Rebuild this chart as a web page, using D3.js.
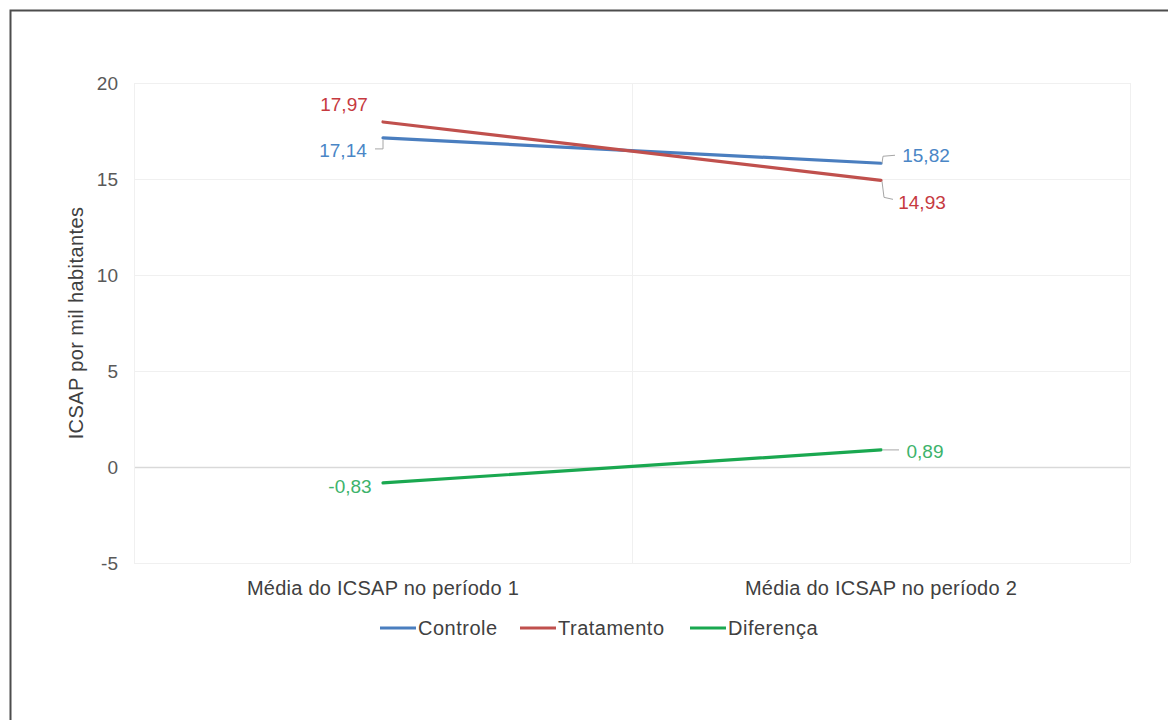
<!DOCTYPE html>
<html>
<head>
<meta charset="utf-8">
<script src="https://cdn.jsdelivr.net/npm/d3@7"></script>
<style>
  html, body { margin: 0; padding: 0; background: #fff; }
  svg { display: block; font-family: "Liberation Sans", Arial, sans-serif; }
</style>
</head>
<body>
<svg id="chart" width="1168" height="720"></svg>
<script>
// Periods on the x axis
const categories = ["Média do ICSAP no período 1", "Média do ICSAP no período 2"];

// ICSAP per thousand inhabitants, one value per period
const controle   = [17.14, 15.82];
const tratamento = [17.97, 14.93];
const diferenca  = [-0.83, 0.89];

const seriesNames = ["Controle", "Tratamento", "Diferença"];
const yTicks = [-5, 0, 5, 10, 15, 20];

const lineColors  = ["#4a7ebf", "#c0504d", "#1aa850"];
const labelColors = ["#4a86c6", "#c63a3f", "#3db36b"];

const series = [controle, tratamento, diferenca].map((vals, i) => ({
  name: seriesNames[i],
  values: vals,
  line: lineColors[i],
  label: labelColors[i]
}));

// decimal comma, plain hyphen for negatives
const fmt = v => d3.format(".2f")(v).replace(".", ",").replace("\u2212", "-");

const svg = d3.select("#chart");

// outer frame
svg.append("rect")
  .attr("x", 10.5).attr("y", 10.5)
  .attr("width", 1400).attr("height", 900)
  .attr("fill", "none").attr("stroke", "#4d4d4d").attr("stroke-width", 2);

const plot = { left: 134, right: 1130, top: 83, bottom: 563 };

const x = d3.scaleBand().domain(categories).range([plot.left, plot.right]);
const y = d3.scaleLinear().domain([-5, 20]).range([plot.bottom, plot.top]);
const cx = c => x(c) + x.bandwidth() / 2;

// horizontal gridlines
svg.append("g").selectAll("line").data(yTicks).join("line")
  .attr("x1", plot.left).attr("x2", plot.right)
  .attr("y1", d => y(d) + 0.5).attr("y2", d => y(d) + 0.5)
  .attr("stroke", d => d === 0 ? "#d9d9d9" : "#f0f0f0")
  .attr("stroke-width", d => d === 0 ? 1.5 : 1);

// vertical gridlines at band boundaries
const bounds = [plot.left, ...categories.slice(1).map(c => x(c)), plot.right];
svg.append("g").selectAll("line").data(bounds).join("line")
  .attr("x1", d => d + 0.5).attr("x2", d => d + 0.5)
  .attr("y1", plot.top).attr("y2", plot.bottom)
  .attr("stroke", "#f0f0f0");

// y axis tick labels
const yAxis = d3.axisLeft(y).tickValues(yTicks).tickSize(0).tickPadding(0)
  .tickFormat(d => String(d));
svg.append("g").attr("transform", `translate(${plot.left - 16},0)`).call(yAxis)
  .call(g => g.select(".domain").remove())
  .call(g => g.selectAll("text")
    .attr("font-size", 19).attr("fill", "#595959")
    .attr("font-family", "Liberation Sans, Arial, sans-serif"));

// x axis category labels
const xAxis = d3.axisBottom(x).tickSize(0).tickPadding(0);
svg.append("g").attr("transform", `translate(0,${plot.bottom + 18})`).call(xAxis)
  .call(g => g.select(".domain").remove())
  .call(g => g.selectAll("text")
    .attr("font-size", 20).attr("letter-spacing", 0.25).attr("fill", "#404040")
    .attr("font-family", "Liberation Sans, Arial, sans-serif"));

// y axis title
svg.append("text")
  .attr("transform", `translate(83,${(plot.top + plot.bottom) / 2}) rotate(-90)`)
  .attr("text-anchor", "middle")
  .attr("font-size", 20).attr("letter-spacing", 0.4).attr("fill", "#404040")
  .text("ICSAP por mil habitantes");

// series lines
const line = d3.line().x((d, i) => cx(categories[i])).y(d => y(d));
svg.append("g").selectAll("path").data(series).join("path")
  .attr("d", s => line(s.values))
  .attr("fill", "none")
  .attr("stroke", s => s.line)
  .attr("stroke-width", 3.2)
  .attr("stroke-linecap", "round");

// data labels: offsets of each label from its point, and leader lines
const labelPlacement = [
  [{ dx: -40, dy: 13, leader: [[-8, 11], [0, 11], [0, 2]] },
   { dx: 45, dy: -8, leader: [[1, 0], [2, -7], [14, -8]] }],
  [{ dx: -39, dy: -17, leader: null },
   { dx: 41, dy: 22, leader: [[1, 1], [3, 17], [12, 19]] }],
  [{ dx: -33, dy: 4, leader: null },
   { dx: 44, dy: 2, leader: [[2, 0], [18, 0]] }]
];

const lbl = svg.append("g");
series.forEach((s, si) => {
  s.values.forEach((v, ci) => {
    const px = cx(categories[ci]), py = y(v);
    const p = labelPlacement[si][ci];
    if (p.leader) {
      lbl.append("path")
        .attr("d", d3.line()(p.leader.map(([a, b]) => [px + a, py + b])))
        .attr("fill", "none").attr("stroke", "#a6a6a6").attr("stroke-width", 1);
    }
    lbl.append("text")
      .attr("x", px + p.dx).attr("y", py + p.dy)
      .attr("text-anchor", "middle").attr("dominant-baseline", "central")
      .attr("font-size", 19).attr("fill", s.label)
      .text(fmt(v));
  });
});

// legend
const legendItems = [
  { x0: 380, tx: 418 },
  { x0: 520, tx: 558 },
  { x0: 690, tx: 728 }
];
const lg = svg.append("g");
series.forEach((s, i) => {
  const it = legendItems[i];
  lg.append("line")
    .attr("x1", it.x0).attr("x2", it.tx - 2)
    .attr("y1", 628).attr("y2", 628)
    .attr("stroke", s.line).attr("stroke-width", 3.2);
  lg.append("text")
    .attr("x", it.tx).attr("y", 628)
    .attr("dominant-baseline", "central")
    .attr("font-size", 20).attr("letter-spacing", 0.5).attr("fill", "#404040")
    .text(s.name);
});
</script>
</body>
</html>
